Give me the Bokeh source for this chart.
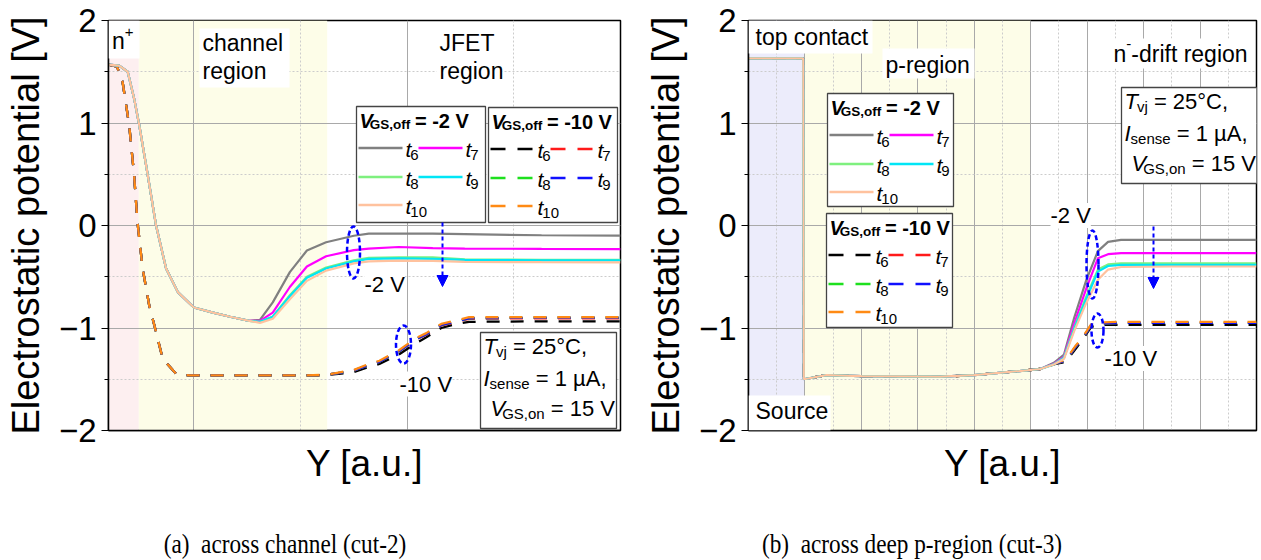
from bokeh.plotting import figure
from bokeh.models import FixedTicker, BoxAnnotation, Label, Arrow, NormalHead, Div
from bokeh.layouts import row, column
from bokeh.embed import file_html
from bokeh.resources import INLINE

# ---------------- data: cut-2 (across channel) ----------------
ch_x_solid = [-0.40, -0.35, -0.31, -0.28, -0.256, -0.224, -0.177, -0.13, -0.075, 0.0,
              0.09, 0.17, 0.26, 0.31, 0.37, 0.45, 0.53, 0.62, 0.75, 0.82, 0.96, 1.12, 1.27, 1.63, 2.0]
ch_off2 = {
    "t6":  [1.57, 1.56, 1.50, 1.24, 0.98, 0.59, 0.0, -0.42, -0.65, -0.80, -0.85, -0.89, -0.93,
            -0.92, -0.75, -0.455, -0.244, -0.163, -0.10, -0.08, -0.08, -0.08, -0.085, -0.095, -0.098],
    "t7":  [1.57, 1.56, 1.50, 1.24, 0.98, 0.59, 0.0, -0.42, -0.65, -0.80, -0.85, -0.89, -0.93,
            -0.93, -0.85, -0.60, -0.40, -0.30, -0.24, -0.225, -0.21, -0.22, -0.225, -0.228, -0.23],
    "t8":  [1.57, 1.56, 1.50, 1.24, 0.98, 0.59, 0.0, -0.42, -0.65, -0.80, -0.85, -0.89, -0.93,
            -0.94, -0.89, -0.68, -0.50, -0.41, -0.34, -0.315, -0.31, -0.31, -0.33, -0.335, -0.335],
    "t9":  [1.57, 1.56, 1.50, 1.24, 0.98, 0.59, 0.0, -0.42, -0.65, -0.80, -0.85, -0.89, -0.93,
            -0.94, -0.89, -0.69, -0.51, -0.42, -0.35, -0.325, -0.32, -0.325, -0.335, -0.34, -0.34],
    "t10": [1.57, 1.56, 1.50, 1.24, 0.98, 0.59, 0.0, -0.42, -0.65, -0.80, -0.85, -0.89, -0.93,
            -0.95, -0.91, -0.72, -0.54, -0.44, -0.37, -0.35, -0.342, -0.345, -0.355, -0.358, -0.36],
}
ch_x_dash = [-0.40, -0.36, -0.334, -0.303, -0.28, -0.264, -0.24, -0.209, -0.177, -0.146, -0.083, -0.02,
             0.50, 0.62, 0.69, 0.75, 0.82, 0.87, 0.93, 0.96, 1.04, 1.09, 1.16, 1.22, 1.29, 1.60, 2.0]
ch_off10 = {
    "t6":  [1.57, 1.55, 1.40, 0.98, 0.49, 0.03, -0.42, -0.78, -1.04, -1.30, -1.447, -1.463,
            -1.463, -1.46, -1.445, -1.43, -1.38, -1.35, -1.29, -1.26, -1.15, -1.09, -1.00, -0.965, -0.94, -0.935, -0.935],
    "t7":  [1.57, 1.55, 1.40, 0.98, 0.49, 0.03, -0.42, -0.78, -1.04, -1.30, -1.447, -1.463,
            -1.463, -1.458, -1.435, -1.415, -1.36, -1.33, -1.26, -1.23, -1.115, -1.065, -0.975, -0.945, -0.91, -0.905, -0.905],
    "t8":  [1.57, 1.55, 1.40, 0.98, 0.49, 0.03, -0.42, -0.78, -1.04, -1.30, -1.447, -1.463,
            -1.463, -1.458, -1.435, -1.415, -1.36, -1.33, -1.26, -1.23, -1.11, -1.06, -0.97, -0.94, -0.905, -0.90, -0.90],
    "t9":  [1.57, 1.55, 1.40, 0.98, 0.49, 0.03, -0.42, -0.78, -1.04, -1.30, -1.447, -1.463,
            -1.463, -1.458, -1.435, -1.415, -1.36, -1.33, -1.26, -1.23, -1.11, -1.06, -0.97, -0.94, -0.905, -0.90, -0.90],
    "t10": [1.57, 1.55, 1.40, 0.98, 0.49, 0.03, -0.42, -0.78, -1.04, -1.30, -1.447, -1.463,
            -1.463, -1.457, -1.43, -1.41, -1.35, -1.32, -1.25, -1.22, -1.10, -1.05, -0.96, -0.93, -0.895, -0.895, -0.895],
}

# ---------------- data: cut-3 (across deep p-region) ----------------
dp_x_solid = [-2.0, -1.03, -1.02, -0.62, 0.0, 1.4, 2.0, 2.8, 3.17, 3.41, 3.59, 3.77, 3.98, 4.19, 4.37, 4.6, 5.5, 7.0]
dp_off2 = {
    "t6":  [1.63, 1.63, -1.50, -1.46, -1.47, -1.475, -1.46, -1.42, -1.40, -1.34, -1.26, -0.90, -0.54, -0.25, -0.16, -0.14, -0.14, -0.14],
    "t7":  [1.63, 1.63, -1.50, -1.46, -1.47, -1.475, -1.46, -1.42, -1.40, -1.35, -1.28, -0.96, -0.62, -0.32, -0.28, -0.27, -0.27, -0.27],
    "t8":  [1.63, 1.63, -1.50, -1.46, -1.47, -1.475, -1.46, -1.42, -1.40, -1.355, -1.29, -1.00, -0.70, -0.43, -0.38, -0.37, -0.37, -0.37],
    "t9":  [1.63, 1.63, -1.50, -1.46, -1.47, -1.475, -1.46, -1.42, -1.40, -1.355, -1.29, -1.01, -0.72, -0.45, -0.395, -0.385, -0.385, -0.385],
    "t10": [1.63, 1.63, -1.50, -1.46, -1.47, -1.475, -1.46, -1.42, -1.40, -1.356, -1.30, -1.03, -0.76, -0.53, -0.43, -0.405, -0.40, -0.40],
}
dp_x_dash = [-2.0, -1.03, -1.02, -0.62, 0.0, 1.4, 2.0, 2.8, 3.17, 3.44, 3.62, 3.80, 3.92, 4.07, 4.25, 4.6, 5.5, 7.0]
dp_off10 = {
    "t6":  [1.63, 1.63, -1.50, -1.46, -1.47, -1.475, -1.46, -1.42, -1.40, -1.35, -1.33, -1.20, -1.11, -0.99, -0.97, -0.97, -0.97, -0.97],
    "t7":  [1.63, 1.63, -1.50, -1.46, -1.47, -1.475, -1.46, -1.42, -1.40, -1.345, -1.32, -1.18, -1.10, -0.975, -0.955, -0.95, -0.95, -0.95],
    "t8":  [1.63, 1.63, -1.50, -1.46, -1.47, -1.475, -1.46, -1.42, -1.40, -1.345, -1.32, -1.18, -1.10, -0.975, -0.955, -0.95, -0.95, -0.95],
    "t9":  [1.63, 1.63, -1.50, -1.46, -1.47, -1.475, -1.46, -1.42, -1.40, -1.345, -1.32, -1.18, -1.10, -0.975, -0.955, -0.95, -0.95, -0.95],
    "t10": [1.63, 1.63, -1.50, -1.46, -1.47, -1.475, -1.46, -1.42, -1.40, -1.34, -1.31, -1.17, -1.09, -0.965, -0.945, -0.94, -0.94, -0.94],
}

series_keys = ["t6", "t7", "t8", "t9", "t10"]
y_ticks = [-2, -1, 0, 1, 2]
y_tick_labels = ["−2", "−1", "0", "1", "2"]

# ---------------- styles ----------------
FONT = "Liberation Sans"
SOLID_COLORS = {"t6": "#808080", "t7": "#ff00ff", "t8": "#7ef07e", "t9": "#00e6f6", "t10": "#ffc29e"}
DASH_COLORS = {"t6": "#000000", "t7": "#ff1a1a", "t8": "#1ee01e", "t9": "#1010ff", "t10": "#ff8a14"}
PINK, YELLOW, LAVENDER = "#fdeff0", "#fdfde8", "#ececfb"
BLUE = "#0000ff"

# page-pixel geometry of the two frames
TOP_PX, BOT_PX = 20, 430
BASELINE_FIX = 8   # labels render a few px below the requested alphabetic baseline


def make_cx(px0, px1, x0, x1):
    def cx(px):
        return x0 + (px - px0) * (x1 - x0) / (px1 - px0)
    return cx


def cy(py):
    return 2 - (py - TOP_PX) * 4 / (BOT_PX - TOP_PX)


REG = {' ': 278, ',': 278, '-': 333, '.': 278, '=': 584, '°': 400, 'µ': 556, '+': 584,
       'A': 667, 'C': 722, 'E': 667, 'F': 611, 'G': 778, 'I': 278, 'J': 500, 'S': 667, 'T': 611, 'V': 667,
       'a': 556, 'c': 500, 'd': 556, 'e': 556, 'f': 278, 'g': 556, 'h': 556, 'i': 222, 'j': 222,
       'l': 222, 'n': 556, 'o': 556, 'p': 556, 'r': 333, 's': 500, 't': 278, 'u': 556, 'v': 500}
BOLD = {' ': 278, ',': 278, '-': 333, '=': 584, 'G': 778, 'S': 667, 'V': 667, 'f': 333, 'o': 611, 'n': 611}


def text_width(s, size, style):
    table = BOLD if "bold" in style else REG
    return sum(table.get(c, 556) for c in s) * size / 1000


def run(p, cx, x_px, base_px, parts, bg=None):
    """Place a sequence of text pieces (with sub/superscripts) along one baseline."""
    x = x_px
    for txt, size, style, dy, kern in parts:
        x += kern
        while txt.startswith(" "):
            x += text_width(" ", size, style)
            txt = txt[1:]
        kw = {}
        if bg:
            kw = dict(background_fill_color=bg)
        p.add_layout(Label(x=cx(x), y=cy(base_px + dy - BASELINE_FIX), text=txt, text_font=FONT,
                           text_font_size=f"{size}px", text_font_style=style,
                           text_baseline="alphabetic", text_align="left", text_color="black", **kw))
        x += text_width(txt, size, style)


def white_box(p, cx, l, t, r, b, border=None):
    p.add_layout(BoxAnnotation(left=cx(l), right=cx(r), top=cy(t), bottom=cy(b),
                               fill_color="white", fill_alpha=1.0,
                               line_color=border, line_width=1.3, line_alpha=1.0 if border else 0))


def legend(p, cx, L, T, W, H, title_val, dashed):
    white_box(p, cx, L, T, L + W, T + H, border="#444444")
    run(p, cx, L + 3, T + 22.5, [("V", 20, "bold italic", 0, 0), ("GS,off", 13.5, "bold", 3, -3),
                                 (" = " + title_val, 20, "bold", 0, -1)])
    slots = [(0, 0), (1, 0), (0, 1), (1, 1), (0, 2)]
    rows_y = [T + 41.5, T + 70.5, T + 98.5]
    colors = DASH_COLORS if dashed else SOLID_COLORS
    for key, (c, r) in zip(series_keys, slots):
        x0 = L + 2 + c * 60
        x1 = x0 + 44
        yy = rows_y[r]
        seg = p.segment(x0=[cx(x0)], y0=[cy(yy)], x1=[cx(x1)], y1=[cy(yy)],
                        line_color=colors[key], line_width=2.5,
                        line_dash="15 12" if dashed else "solid")
        seg.level = "overlay"
        run(p, cx, x1 + 3, yy + 9, [("t", 21, "italic", 0, 0), (key[1:], 15, "normal", 6, -1)])


def info_box(p, cx, L, T):
    white_box(p, cx, L, T, L + 136, T + 96, border="#444444")
    run(p, cx, L + 3, T + 22, [("T", 22, "italic", 0, 0), ("vj", 15, "normal", 5, -1), (" = 25°C,", 22, "normal", 0, 0)])
    run(p, cx, L + 3, T + 54, [("I", 22, "italic", 0, 0), ("sense", 15, "normal", 5, 0), (" = 1 µA,", 22, "normal", 0, 0)])
    run(p, cx, L + 10, T + 84, [("V", 22, "italic", 0, 0), ("GS,on", 15, "normal", 5, -3), (" = 15 V", 22, "normal", 0, 0)])


def base_figure(width, x0, x1, border_left, border_right, major_x, minor_x):
    p = figure(width=width, height=500, x_range=(x0, x1), y_range=(-2, 2),
               output_backend="svg", toolbar_location=None,
               min_border_left=border_left, min_border_right=border_right,
               min_border_top=TOP_PX, min_border_bottom=500 - BOT_PX)
    p.background_fill_color = "white"
    p.border_fill_color = "white"
    p.outline_line_color = "black"
    p.outline_line_width = 1.5

    p.xaxis.ticker = FixedTicker(ticks=[])
    p.xgrid.ticker = FixedTicker(ticks=major_x, minor_ticks=minor_x)
    p.yaxis.ticker = FixedTicker(ticks=y_ticks, minor_ticks=[-1.5, -0.5, 0.5, 1.5])
    p.ygrid.ticker = FixedTicker(ticks=y_ticks, minor_ticks=[-1.5, -0.5, 0.5, 1.5])
    p.yaxis.major_label_overrides = dict(zip(y_ticks, y_tick_labels))

    for g in (p.xgrid, p.ygrid):
        g.grid_line_color = "#a9a9a9"
        g.grid_line_width = 1
        g.minor_grid_line_color = "#cccccc"
        g.minor_grid_line_dash = "2 2"
        g.level = "underlay"

    p.axis.axis_line_color = "black"
    p.axis.axis_line_width = 1.5
    p.axis.major_tick_line_color = "black"
    p.axis.minor_tick_line_color = "black"
    p.yaxis.major_tick_out = 7
    p.yaxis.major_tick_in = 0
    p.yaxis.minor_tick_out = 4
    p.yaxis.minor_tick_in = 0
    p.xaxis.major_tick_out = 0
    p.xaxis.minor_tick_out = 0
    p.xaxis.major_label_standoff = 0
    p.yaxis.major_label_standoff = 5
    p.yaxis.major_label_text_font = FONT
    p.yaxis.major_label_text_font_size = "33px"
    p.yaxis.major_label_text_color = "black"

    p.yaxis.axis_label = "Electrostatic potential [V]"
    p.xaxis.axis_label = "Y [a.u.]"
    for ax in (p.xaxis, p.yaxis):
        ax.axis_label_text_font = FONT
        ax.axis_label_text_font_style = "normal"
        ax.axis_label_text_color = "black"
    p.yaxis.axis_label_text_font_size = "38px"
    p.xaxis.axis_label_text_font_size = "37px"
    p.yaxis.axis_label_standoff = 9
    p.xaxis.axis_label_standoff = 12
    return p


def draw_curves(p, xs_dash, dash_data, xs_solid, solid_data):
    for key in series_keys:
        p.line(xs_dash, dash_data[key], line_color=DASH_COLORS[key], line_width=2.3, line_dash="13 11")
    for key in series_keys:
        p.line(xs_solid, solid_data[key], line_color=SOLID_COLORS[key], line_width=2.2)


def region(p, x0, x1, color):
    p.add_layout(BoxAnnotation(left=x0, right=x1, fill_color=color, fill_alpha=1.0,
                               line_alpha=0, level="image"))


def ellipse_marks(p, cx, marks):
    p.ellipse(x=[cx(m[0]) for m in marks], y=[cy(m[1]) for m in marks],
              width=[m[2] for m in marks], height=[m[3] for m in marks],
              width_units="screen", height_units="screen",
              fill_color=None, line_color=BLUE, line_width=2.5, line_dash="5 3")


def down_arrow(p, cx, x_px, y0_px, y1_px):
    p.add_layout(Arrow(end=NormalHead(size=11, fill_color=BLUE, line_color=BLUE),
                       x_start=cx(x_px), y_start=cy(y0_px), x_end=cx(x_px), y_end=cy(y1_px),
                       line_color=BLUE, line_width=2, line_dash="4 3"))


# ---------------- (a) across channel ----------------
lx = make_cx(108, 620, -0.4, 2.0)
pa = base_figure(630, -0.4, 2.0, 108, 10, [0, 1], [0.5, 1.5])
region(pa, -0.4, -0.258, PINK)
region(pa, -0.258, 0.625, YELLOW)
draw_curves(pa, ch_x_dash, ch_off10, ch_x_solid, ch_off2)

white_box(pa, lx, 108, 20, 139, 58)
run(pa, lx, 111.5, 48, [("n", 23, "normal", 0, 0), ("+", 15, "normal", -9, 0)])
white_box(pa, lx, 199, 28, 289, 87)
run(pa, lx, 202, 50, [("channel", 23, "normal", 0, 0)])
run(pa, lx, 202, 78, [("region", 23, "normal", 0, 0)])
white_box(pa, lx, 436, 28, 502, 87)
run(pa, lx, 439, 50, [("JFET", 23, "normal", 0, 0)])
run(pa, lx, 439, 78, [("region", 23, "normal", 0, 0)])

legend(pa, lx, 356, 106, 129, 116, "-2 V", dashed=False)
legend(pa, lx, 488, 107, 129, 115, "-10 V", dashed=True)
info_box(pa, lx, 480, 332)

ellipse_marks(pa, lx, [(353, 252, 13, 52), (403, 344, 15, 38)])
down_arrow(pa, lx, 442, 222, 286)
run(pa, lx, 364, 291.5, [("-2 V", 22, "normal", 0, 0)], bg="white")
run(pa, lx, 399, 391.5, [("-10 V", 22, "normal", 0, 0)], bg="white")

# ---------------- (b) across deep p-region ----------------
rx = make_cx(748, 1256, -2.0, 7.0)
pb = base_figure(631, -2.0, 7.0, 118, 5,
                 [-1, 0, 1, 2, 3, 4, 5, 6], [-1.5, -0.5, 0.5, 1.5, 2.5, 3.5, 4.5, 5.5, 6.5])
region(pb, -2.0, -1.0, LAVENDER)
region(pb, -1.0, 3.0, YELLOW)
draw_curves(pb, dp_x_dash, dp_off10, dp_x_solid, dp_off2)

white_box(pb, rx, 748, 20, 872, 53)
run(pb, rx, 755, 44, [("top contact", 23, "normal", 0, 0)])
white_box(pb, rx, 882, 48, 974, 78)
run(pb, rx, 885, 72, [("p-region", 23, "normal", 0, 0)])
white_box(pb, rx, 1108, 38, 1252, 68)
run(pb, rx, 1113, 61, [("n", 23, "normal", 0, 0), ("-", 15, "normal", -10, 0), ("-drift region", 23, "normal", 0, 0)])
white_box(pb, rx, 748, 395, 830, 430)
run(pb, rx, 755, 418, [("Source", 23, "normal", 0, 0)])

legend(pb, rx, 827, 93, 126, 113, "-2 V", dashed=False)
legend(pb, rx, 826, 213, 126, 114, "-10 V", dashed=True)
info_box(pb, rx, 1121, 87)

ellipse_marks(pb, rx, [(1092, 264, 12, 68), (1097, 330, 12, 34)])
down_arrow(pb, rx, 1153, 226, 288)
run(pb, rx, 1050, 223, [("-2 V", 22, "normal", 0, 0)], bg="white")
run(pb, rx, 1104, 366, [("-10 V", 22, "normal", 0, 0)], bg="white")

# ---------------- captions (condensed serif) ----------------
CAP_STYLE = ("font-family:'Liberation Serif';font-size:28px;line-height:28px;white-space:nowrap;"
             "text-align:center;width:400px;color:black;padding-top:30px;"
             "transform:scaleX(0.83);transform-origin:center;")
cap_a = Div(text=f'<div style="{CAP_STYLE}margin-left:85px;">(a)&nbsp;&nbsp;across channel (cut-2)</div>',
            width=630, height=60, margin=(0, 0, 0, 0))
cap_b = Div(text=f'<div style="{CAP_STYLE}margin-left:82px;">(b)&nbsp;&nbsp;across deep p-region (cut-3)</div>',
            width=631, height=60, margin=(0, 0, 0, 0))

layout = column(row(pa, pb), row(cap_a, cap_b))
open("out.html", "w").write(file_html(layout, INLINE))
